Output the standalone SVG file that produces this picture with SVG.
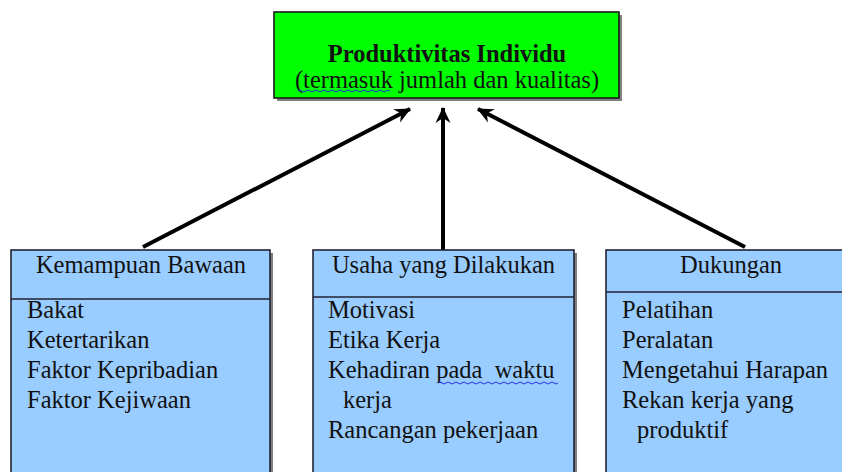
<svg xmlns="http://www.w3.org/2000/svg" width="842" height="472" viewBox="0 0 842 472">
<style>
text{font-family:"Liberation Serif","Times New Roman",serif;fill:#111;white-space:pre}
.t{font-size:24.5px}
.h{font-size:24.5px;text-anchor:middle}
.i{font-size:24.5px}
.box{fill:#99ccff;stroke:#222233;stroke-width:1.6}
.sh{fill:#555;opacity:.75}
.sep{stroke:#222233;stroke-width:1.6}
.conn line{stroke:#000;stroke-width:4;marker-end:url(#ah)}
.sq{fill:none;stroke:#2233dd;stroke-width:1}
</style>
<defs>
<marker id="ah" markerUnits="userSpaceOnUse" viewBox="-17 -8 19 16" refX="0" refY="0" markerWidth="19" markerHeight="16" orient="auto">
<path d="M1,0 L-15,-7.5 L-10,0 L-15,7.5 Z" fill="#000"/>
</marker>
</defs>
<rect width="842" height="472" fill="#fff"/>
<g id="top">
<rect class="sh" x="277" y="15" width="345" height="86"/>
<rect x="274" y="12" width="345" height="86" fill="#00ff00" stroke="#1a1a1a" stroke-width="1.6"/>
<text class="t" x="447" y="62" text-anchor="middle" font-weight="bold">Produktivitas Individu</text>
<text class="t" x="447" y="88" text-anchor="middle">(termasuk jumlah dan kualitas)</text>
<path class="sq" d="M298,91 q2,-2 4,0 t4,0 t4,0 t4,0 t4,0 t4,0 t4,0 t4,0 t4,0 t4,0 t4,0 t4,0 t4,0 t4,0 t4,0 t4,0 t4,0 t4,0 t4,0 t4,0 t4,0 t4,0 t4,0"/>
</g>
<g class="conn">
<line x1="143" y1="247" x2="410" y2="109"/>
<line x1="443" y1="250" x2="443" y2="108"/>
<line x1="745" y1="247" x2="478" y2="109"/>
</g>
<g id="kemampuan">
<rect class="sh" x="14" y="253" width="259" height="230"/>
<rect class="box" x="11" y="250" width="259" height="230"/>
<line class="sep" x1="11" y1="299" x2="270" y2="299"/>
<text class="h" x="141" y="273">Kemampuan Bawaan</text>
<text class="i" x="27" y="318">Bakat</text>
<text class="i" x="27" y="348">Ketertarikan</text>
<text class="i" x="27" y="378">Faktor Kepribadian</text>
<text class="i" x="27" y="408">Faktor Kejiwaan</text>
</g>
<g id="usaha">
<rect class="sh" x="316" y="253" width="261" height="230"/>
<rect class="box" x="313" y="250" width="261" height="230"/>
<line class="sep" x1="313" y1="297" x2="574" y2="297"/>
<text class="h" x="443.5" y="273">Usaha yang Dilakukan</text>
<text class="i" x="328" y="318">Motivasi</text>
<text class="i" x="328" y="348">Etika Kerja</text>
<text class="i" x="328" y="378">Kehadiran pada  waktu</text>
<text class="i" x="343" y="408">kerja</text>
<text class="i" x="328" y="438">Rancangan pekerjaan</text>
<path class="sq" d="M438,383 q2,-2 4,0 t4,0 t4,0 t4,0 t4,0 t4,0 t4,0 t4,0 t4,0 t4,0 t4,0 t4,0 t4,0 t4,0 t4,0 t4,0 t4,0 t4,0 t4,0 t4,0 t4,0 t4,0 t4,0 t4,0 t4,0 t4,0 t4,0 t4,0 t4,0 t4,0"/>
</g>
<g id="dukungan">
<rect class="box" x="606" y="250" width="260" height="230"/>
<line class="sep" x1="606" y1="292" x2="866" y2="292"/>
<text class="h" x="731" y="273">Dukungan</text>
<text class="i" x="622" y="318">Pelatihan</text>
<text class="i" x="622" y="348">Peralatan</text>
<text class="i" x="622" y="378">Mengetahui Harapan</text>
<text class="i" x="622" y="408">Rekan kerja yang</text>
<text class="i" x="637" y="438">produktif</text>
</g>
</svg>
